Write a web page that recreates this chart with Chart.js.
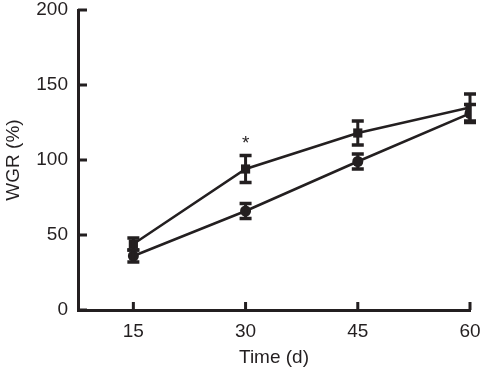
<!DOCTYPE html>
<html>
<head>
<meta charset="utf-8">
<script src="https://cdn.jsdelivr.net/npm/chart.js@4"></script>
<style>
  html, body { margin: 0; padding: 0; background: #fff; }
  #wrap { width: 481px; height: 369px; }
</style>
</head>
<body>
<div id="wrap"><canvas id="chart" width="481" height="369"></canvas></div>
<script>
const days = [15, 30, 45, 60];
const xTicks = [15, 30, 45, 60];
const yTicks = [0, 50, 100, 150, 200];

// upper line (squares)
const squareVals = [44, 94, 118, 135];
const squareErr = [4, 9, 8, 9];
// lower line (circles)
const circleVals = [36, 66, 99, 131];
const circleErr = [4, 5, 5, 6];

const starMarks = [{ x: 30, y: 113, text: '*' }];

const ink = '#231f20';
const fam = '"Liberation Sans", Arial, sans-serif';

function toPoints(vals) {
  return days.map((d, i) => ({ x: d, y: vals[i] }));
}

// error bars, inward tick marks and the asterisk
const extras = {
  id: 'extras',
  afterDatasetsDraw(chart) {
    const ctx = chart.ctx;
    const xs = chart.scales.x, ys = chart.scales.y;
    const area = chart.chartArea;
    ctx.save();
    ctx.strokeStyle = ink;
    ctx.lineCap = 'butt';

    const drawBars = (vals, errs) => {
      vals.forEach((v, i) => {
        const x = xs.getPixelForValue(days[i]);
        const top = ys.getPixelForValue(v + errs[i]);
        const bot = ys.getPixelForValue(v - errs[i]);
        ctx.lineWidth = 3;
        ctx.beginPath();
        ctx.moveTo(x, top); ctx.lineTo(x, bot);
        ctx.stroke();
        ctx.lineWidth = 3.5;
        ctx.beginPath();
        ctx.moveTo(x - 6, top); ctx.lineTo(x + 6, top);
        ctx.moveTo(x - 6, bot); ctx.lineTo(x + 6, bot);
        ctx.stroke();
      });
    };
    drawBars(squareVals, squareErr);
    drawBars(circleVals, circleErr);

    // ticks pointing into the plot
    ctx.lineWidth = 3;
    ctx.beginPath();
    xTicks.forEach(t => {
      const x = xs.getPixelForValue(t);
      ctx.moveTo(x, area.bottom); ctx.lineTo(x, area.bottom - 8);
    });
    yTicks.forEach(t => {
      const y = ys.getPixelForValue(t);
      ctx.moveTo(area.left, y); ctx.lineTo(area.left + 9, y);
    });
    ctx.stroke();

    ctx.fillStyle = ink;
    ctx.font = '19px ' + fam;
    ctx.textAlign = 'center';
    ctx.textBaseline = 'middle';
    starMarks.forEach(s => {
      ctx.fillText(s.text, xs.getPixelForValue(s.x), ys.getPixelForValue(s.y) + 3);
    });
    ctx.restore();
  }
};

new Chart(document.getElementById('chart'), {
  type: 'line',
  data: {
    datasets: [
      {
        data: toPoints(squareVals),
        borderColor: ink,
        backgroundColor: ink,
        borderWidth: 2.5,
        pointStyle: 'rect',
        pointRadius: 6.5,
        pointBorderWidth: 0,
        tension: 0
      },
      {
        data: toPoints(circleVals),
        borderColor: ink,
        backgroundColor: ink,
        borderWidth: 2.5,
        pointStyle: 'circle',
        pointRadius: 5.5,
        pointBorderWidth: 0,
        tension: 0
      }
    ]
  },
  options: {
    responsive: false,
    animation: false,
    events: [],
    layout: { padding: { top: 10, right: 11, left: 0, bottom: 0 } },
    plugins: { legend: { display: false }, tooltip: { enabled: false } },
    scales: {
      x: {
        type: 'linear',
        min: 7.6,
        max: 60,
        afterBuildTicks: s => { s.ticks = xTicks.map(v => ({ value: v })); },
        afterFit: s => { s.height = 59; s.paddingLeft = 0; s.paddingRight = 0; },
        grid: { display: false, drawTicks: false },
        border: { display: true, color: ink, width: 3 },
        ticks: {
          color: ink,
          padding: 10,
          maxRotation: 0,
          font: { family: fam, size: 19 }
        },
        title: {
          display: true,
          text: 'Time (d)',
          color: ink,
          padding: { top: 2, bottom: 0 },
          font: { family: fam, size: 19 }
        }
      },
      y: {
        min: 0,
        max: 200,
        afterBuildTicks: s => { s.ticks = yTicks.map(v => ({ value: v })); },
        afterFit: s => { s.width = 78; s.paddingTop = 0; s.paddingBottom = 0; },
        grid: { display: false, drawTicks: false },
        border: { display: true, color: ink, width: 3 },
        ticks: {
          color: ink,
          padding: 10,
          font: { family: fam, size: 19 }
        },
        title: {
          display: true,
          text: 'WGR (%)',
          color: ink,
          padding: { top: 2, bottom: 0 },
          font: { family: fam, size: 19 }
        }
      }
    }
  },
  plugins: [extras]
});
</script>
</body>
</html>
